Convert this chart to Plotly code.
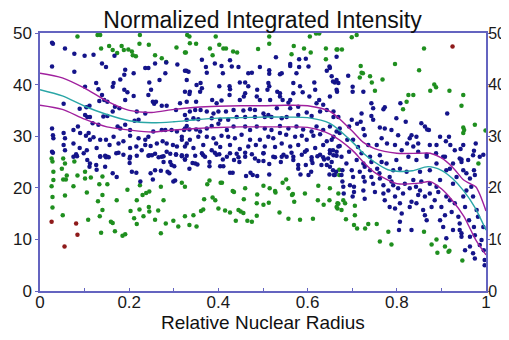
import plotly.graph_objects as go

# ---- scatter data ----
blue_pts = [
    (.027,48.1),(.029,47.9),(.056,47.0),(.077,46.0),(.100,45.6),(.120,45.8),(.167,45.6),(.027,43.5),(.077,42.5),(.139,44.1),
    (.148,43.4),(.191,42.9),(.189,41.9),(.210,42.2),(.236,43.2),(.243,43.2),(.258,44.1),(.283,44.3),(.308,43.9),(.328,42.7),
    (.329,40.9),(.281,42.2),(.245,40.4),(.268,40.9),(.165,40.3),(.163,39.6),(.180,41.0),(.189,39.0),(.196,38.5),(.126,40.3),
    (.101,39.6),(.131,39.1),(.139,38.0),(.144,37.0),(.151,36.7),(.133,36.8),(.104,35.6),(.111,35.9),(.053,36.3),(.089,35.3),
    (.101,34.1),(.106,33.7),(.112,33.7),(.118,32.5),(.131,32.2),(.142,33.8),(.151,33.9),(.163,34.8),(.168,35.7),(.178,35.4),
    (.191,37.0),(.210,37.8),(.243,38.0),(.249,39.0),(.253,36.7),(.256,36.3),(.260,36.7),(.273,35.9),(.284,35.9),(.305,35.1),
    (.314,36.4),(.325,38.6),(.329,36.7),(.217,34.8),(.236,34.4),(.212,33.0),(.221,33.2),(.191,32.2),(.202,31.2),(.174,31.9),
    (.180,31.5),(.202,30.1),(.221,29.6),(.236,29.3),(.243,29.9),(.254,30.9),(.273,31.2),(.281,31.2),(.295,31.2),(.307,30.9),
    (.323,31.2),(.329,32.0),(.027,31.5),(.029,30.2),(.030,29.6),(.053,30.6),(.056,29.6),(.075,31.2),(.085,31.9),(.090,30.6),
    (.103,30.1),(.109,30.6),(.112,29.3),(.120,29.8),(.135,29.3),(.148,29.3),(.156,28.3),(.165,29.9),(.176,28.6),(.187,29.0),
    (.202,27.7),(.216,28.0),(.228,27.3),(.236,28.3),(.248,28.1),(.262,28.6),(.275,29.0),(.284,28.6),(.298,28.3),(.307,28.0),
    (.318,29.3),(.329,28.6),(.075,28.6),(.053,28.3),(.056,27.3),(.089,27.7),(.098,26.7),(.105,27.3),(.127,27.7),(.135,26.0),
    (.146,26.2),(.151,26.0),(.171,26.7),(.187,26.4),(.202,26.0),(.217,26.2),(.243,26.2),(.258,26.6),(.273,26.0),(.292,26.6),
    (.305,26.4),(.027,27.0),
    (.029,26.8),(.075,26.0),(.081,26.5),(.083,26.1),(.106,25.4),(.112,24.7),(.111,24.1),(.126,24.4),(.135,26.1),(.148,25.9),
    (.154,25.9),(.127,23.5),(.146,24.1),(.176,26.8),(.172,22.1),(.163,22.8),(.201,25.7),(.201,24.8),(.206,23.1),(.216,22.9),
    (.225,21.2),(.245,26.3),(.251,26.3),(.266,25.9),(.277,26.1),(.277,25.0),(.284,27.0),(.292,25.0),(.295,24.4),(.301,24.2),
    (.305,26.5),(.318,26.1),(.325,25.5),(.248,22.8),(.253,21.6),(.258,23.4),(.271,23.3),(.286,23.1),(.290,22.8),(.299,21.2),
    (.303,21.4),
    (.318,26.3),(.325,25.5),(.342,24.8),(.348,24.7),(.353,24.5),(.335,23.7),(.366,26.3),(.363,26.7),(.380,25.0),(.380,24.2),
    (.392,26.8),(.402,26.5),(.410,25.5),(.404,24.2),(.411,24.2),(.426,26.7),(.435,25.4),(.445,25.9),(.447,25.0),(.426,22.9),
    (.432,22.9),(.460,26.8),(.475,26.5),(.490,25.2),(.501,26.7),(.501,25.2),(.514,24.6),(.527,25.9),(.540,25.0),(.542,26.0),
    (.553,26.0),(.564,26.8),(.568,25.4),(.579,24.4),(.579,23.7),(.584,22.6),(.596,24.4),(.594,27.0),(.602,22.5),(.609,25.4),
    (.611,24.8),(.608,23.1),(.622,26.1),(.631,24.4),(.635,25.9),(.637,25.5),(.643,24.4),(.650,24.1),(.649,22.6),(.658,26.3),
    (.659,22.5),(.664,23.1),(.462,22.3),(.472,22.9),(.477,22.5),(.487,22.3),(.514,22.6),
    (.363,44.8),(.372,43.4),(.374,42.3),(.333,42.5),(.325,42.7),(.392,44.1),(.407,43.6),(.426,44.7),(.430,43.5),(.445,43.4),
    (.410,42.2),(.475,42.3),(.467,42.2),(.493,43.4),(.514,42.8),(.514,42.1),(.529,45.3),(.538,42.0),(.542,42.2),(.561,43.6),
    (.561,44.0),(.581,43.4),(.575,42.2),(.596,45.0),(.602,43.5),(.581,44.9),(.615,40.4),(.643,42.7),(.649,43.5),(.665,45.4),
    (.669,40.3),(.661,40.4),(.360,40.3),(.351,39.9),(.363,39.3),(.359,38.6),(.336,38.6),(.335,38.2),(.350,36.7),(.402,39.7),
    (.425,39.7),(.426,39.1),(.448,40.4),(.460,40.4),(.467,39.7),(.460,38.3),(.457,37.7),(.448,37.0),(.425,38.0),(.407,36.9),
    (.386,37.0),(.396,36.4),(.360,35.1),(.348,35.1),(.336,34.8),(.512,40.3),(.514,39.7),(.510,39.0),(.487,39.0),(.486,37.7),
    (.493,37.0),(.516,37.0),(.532,38.6),(.538,37.7),(.544,37.0),(.538,38.3),(.568,40.3),(.568,38.3),(.561,37.0),(.557,36.5),
    (.589,38.5),(.604,37.7),(.617,39.0),(.626,37.0),(.620,36.4),(.635,36.1),(.650,37.7),(.665,39.0),(.583,39.7),(.579,35.7),
    (.561,35.4),(.531,35.4),(.512,34.1),(.501,34.4),(.482,35.1),(.471,35.2),(.456,35.0),(.434,35.1),(.417,34.8),(.400,34.8),
    (.389,34.4),(.374,34.8),(.325,34.1),(.329,33.2),(.344,33.5),(.355,33.3),(.385,33.5),(.404,33.2),(.422,33.2),(.441,33.7),
    (.460,33.7),(.482,33.7),(.504,33.7),(.519,33.7),(.542,33.5),(.553,33.7),(.579,34.1),(.598,34.6),(.609,33.9),(.628,34.8),
    (.643,35.1),(.658,34.8),(.658,33.7),(.669,33.7),(.325,31.5),(.335,31.3),(.350,31.3),(.359,30.9),(.374,31.5),(.385,32.0),
    (.400,32.4),(.419,31.2),(.434,31.9),(.460,31.9),(.471,31.2),(.486,31.9),(.504,31.5),(.519,31.2),(.538,32.0),(.557,31.5),
    (.575,31.9),(.590,31.3),(.609,30.9),(.620,31.9),(.635,31.2),(.650,31.9),(.665,30.9),(.318,29.9),(.336,29.3),(.355,29.9),
    (.374,29.9),(.389,29.6),(.395,28.6),(.407,30.1),(.422,29.9),(.437,29.6),(.452,30.3),(.471,29.3),(.493,29.3),(.512,29.9),
    (.523,29.6),(.538,30.6),(.552,30.3),(.572,29.9),(.587,30.1),(.598,29.3),(.613,30.1),(.628,30.4),(.643,29.0),(.658,29.9),
    (.325,28.0),(.344,27.7),(.366,28.3),(.385,27.3),(.404,27.9),(.426,28.3),(.448,27.5),(.467,28.0),(.484,28.3),(.504,28.0),
    (.527,27.9),(.542,28.6),(.561,28.0),(.579,28.3),(.598,27.3),(.617,27.7),(.635,28.3),(.650,27.3),(.669,28.0),(.329,26.2),
    (.348,26.2),(.370,26.0),(.396,26.4),(.419,26.0),(.441,26.6),(.460,26.0),(.482,25.7),(.501,26.7),(.523,26.0),(.546,26.4),
    (.568,26.0),(.587,26.4),(.609,25.9),(.628,26.4),(.646,25.7),(.665,26.2),
    (.650,43.2),(.654,41.6),(.657,40.6),(.665,40.9),(.666,38.6),(.691,41.7),(.701,39.6),(.701,38.6),(.725,38.6),(.743,36.4),
    (.747,35.4),(.770,35.2),(.773,35.6),(.799,33.5),(.808,36.4),(.820,32.8),(.829,29.6),(.833,30.2),(.844,29.9),(.848,28.6),
    (.855,32.5),(.863,31.9),(.868,31.3),(.872,31.2),(.874,28.3),(.889,28.3),(.897,29.9),(.910,29.0),(.913,34.4),(.917,29.9),
    (.920,28.3),(.930,27.3),(.943,27.5),(.949,28.3),(.973,27.2),(.994,26.4),(.721,34.4),(.719,32.8),(.725,31.4),(.711,32.4),
    (.743,33.9),(.747,33.2),(.728,30.2),(.699,33.2),(.693,31.9),(.672,31.5),(.672,30.6),(.689,29.3),(.672,28.1),(.654,29.3),
    (.657,27.3),(.702,29.3),(.713,27.9),(.736,28.3),(.755,28.3),(.762,31.7),(.773,31.5),(.766,29.6),(.778,28.6),(.788,31.2),
    (.796,28.3),(.803,30.2),(.811,27.3),(.823,28.6),(.837,28.0),(.848,27.0),(.867,26.4),(.888,26.7),(.908,26.0),(.945,25.5),
    (.977,28.6),(.986,26.0),
    (.650,26.7),(.654,25.0),(.657,23.4),(.661,22.5),(.676,26.0),(.678,23.4),(.676,22.5),(.678,21.2),(.680,20.2),(.681,18.9),
    (.693,27.0),(.699,23.4),(.702,22.1),(.704,20.2),(.704,19.2),(.701,18.3),(.721,26.7),(.725,24.7),(.728,24.1),(.725,22.1),
    (.728,21.2),(.725,19.5),(.728,17.9),(.740,23.4),(.743,22.1),(.747,20.8),(.751,19.2),(.756,23.7),(.761,22.8),(.762,21.8),
    (.770,20.5),(.770,18.9),(.773,17.6),(.781,19.5),(.784,22.1),(.788,21.2),(.792,20.5),(.784,16.3),(.796,18.3),(.796,16.0),
    (.803,19.9),(.807,17.0),(.807,13.4),(.811,15.0),(.805,11.8),(.814,18.9),(.818,20.8),(.829,19.9),(.833,17.3),(.829,16.3),
    (.833,11.8),(.837,21.5),(.843,20.2),(.848,18.6),(.844,17.0),(.852,19.5),(.855,21.2),(.859,15.7),(.863,18.3),(.863,14.7),
    (.867,13.7),(.874,20.8),(.874,18.9),(.878,16.3),(.885,17.6),(.889,20.2),(.893,19.2),(.897,21.5),(.897,13.7),(.900,16.3),
    (.908,14.7),(.904,12.4),(.911,18.3),(.911,10.2),(.919,17.6),(.923,15.3),(.926,20.8),(.926,11.8),(.930,17.0),(.938,14.4),
    (.941,13.1),(.941,11.8),(.945,11.2),(.949,18.3),(.945,10.5),(.953,16.3),(.953,7.9),(.956,19.5),(.960,25.4),(.962,13.7),
    (.964,10.5),(.964,8.6),(.967,20.2),(.971,26.3),(.973,23.4),(.975,22.5),(.971,18.3),(.973,12.4),(.975,10.8),(.971,7.3),
    (.975,6.3),(.979,15.7),(.982,14.4),(.986,8.9),(.990,9.9),(.994,12.4),(.995,7.9),(.997,6.0),(.997,5.0),(.665,27.0),
    (.687,24.7),(.710,25.4),(.740,26.0),(.762,26.3),(.777,24.7),(.799,25.4),(.807,23.7),(.826,26.0),(.844,25.4),(.867,26.0),
    (.889,24.7),(.904,26.0),(.911,23.4),(.926,24.7),(.941,25.7),(.945,25.0),(.949,23.4),(.956,22.8),(.964,21.8),(.934,22.1),
    (.919,23.7),(.874,23.4),(.852,23.1),(.822,23.1),(.792,23.4),(.766,25.0),(.743,25.0),(.717,23.1),(.695,20.5),
]

green_pts = [
    (.026,25.7),(.028,25.1),(.052,25.7),(.056,24.7),(.049,23.7),(.030,23.1),(.060,22.4),(.052,21.6),(.058,21.6),(.030,21.5),
    (.026,20.3),(.075,20.3),(.056,18.5),(.028,18.2),(.028,16.2),(.051,14.7),(.084,22.4),(.077,25.1),(.101,23.1),(.101,21.8),
    (.114,22.0),(.105,19.1),(.133,20.7),(.151,20.7),(.140,22.2),(.140,18.6),(.130,17.4),(.140,15.7),(.134,14.5),(.108,13.8),
    (.159,13.4),(.163,13.2),(.137,11.3),(.168,11.6),(.185,10.7),(.191,11.0),(.172,17.6),(.196,19.6),(.203,15.5),(.211,14.1),
    (.217,13.0),(.217,17.6),(.223,15.8),(.232,14.5),(.230,18.6),(.238,19.0),(.245,19.3),(.224,20.5),(.244,16.3),(.245,15.4),
    (.265,15.6),(.258,13.8),(.277,17.6),(.271,20.2),(.282,13.1),(.299,13.6),(.310,12.5),(.318,21.0),(.325,20.2),(.325,14.5),
    (.335,12.8),(.271,11.2),
    (.344,14.7),(.351,12.5),(.361,15.5),(.366,15.8),(.368,17.8),(.375,20.7),(.380,21.4),(.387,18.1),(.393,17.6),(.400,16.0),
    (.405,21.0),(.408,21.0),(.415,15.6),(.426,15.2),(.432,19.4),(.435,19.2),(.439,13.6),(.445,15.7),(.450,15.4),(.456,15.1),
    (.457,17.8),(.460,19.9),(.465,13.6),(.475,13.4),(.486,14.6),(.487,18.7),(.486,17.0),(.501,20.4),(.501,16.7),(.513,17.1),
    (.515,19.9),(.527,19.4),(.528,19.1),(.537,15.2),(.544,21.0),(.552,21.6),(.557,19.9),(.557,14.0),(.565,18.6),(.567,18.8),
    (.570,17.3),(.583,13.8),(.594,18.9),(.612,14.0),(.623,17.6),(.624,20.4),(.636,16.7),(.649,17.6),(.650,19.9),(.667,17.0),
    (.667,16.0),(.671,23.5),(.671,22.5),
    (.669,18.9),(.669,16.9),(.665,16.3),(.676,15.7),(.680,17.6),(.686,13.9),(.684,17.0),(.706,16.5),(.704,12.8),(.711,12.1),
    (.729,12.1),(.736,13.0),(.755,13.0),(.706,14.7),(.762,9.6),(.781,11.5),(.788,9.0),(.861,11.5),(.878,9.0),(.889,10.0),
    (.891,7.4),(.908,8.6),(.916,7.6),(.918,7.8),(.947,5.9),(.983,24.7),
    (.084,49.3),(.129,49.6),(.135,49.6),(.137,47.0),(.155,47.5),(.163,46.7),(.173,46.1),(.183,47.5),(.188,46.7),(.198,46.8),
    (.206,46.4),(.208,45.7),(.215,45.5),(.223,47.9),(.224,49.6),(.244,47.7),(.258,45.7),(.273,45.1),(.283,44.4),(.306,47.2),
    (.325,46.2),(.330,49.6),
    (.335,49.3),(.336,48.0),(.350,47.9),(.327,46.2),(.381,47.0),(.387,45.7),(.394,49.3),(.402,47.7),(.411,47.0),(.417,47.0),
    (.433,46.4),(.442,46.2),(.489,46.9),(.514,49.3),(.514,47.9),(.564,45.9),(.569,47.5),(.592,47.0),(.605,49.3),(.607,46.2),
    (.619,49.9),(.626,49.9),(.641,47.0),(.641,44.9),(.665,46.8),
    (.699,49.2),(.710,49.6),(.667,46.8),(.677,46.8),(.719,43.6),(.721,42.3),(.724,42.2),(.717,41.4),(.740,41.6),(.744,40.4),
    (.751,38.8),(.768,41.0),(.796,44.0),(.814,35.2),(.822,36.7),(.826,38.0),(.837,38.0),(.850,42.8),(.861,47.0),(.875,38.8),
    (.884,40.0),(.888,39.5),(.918,38.8),(.945,35.9),(.949,38.0),(.949,31.7),(.951,31.2),(.949,30.6),(.975,32.2),(.999,31.1),
]

red_pts = [(.026,13.4),(.081,13.1),(.084,10.9),(.055,8.6),(.925,47.4)]

# ---- fitted curve and confidence band ----
fit_x   = [0, .05, .1, .15, .2, .25, .3, .35, .4, .45, .5, .55, .6, .65, .7, .725, .75, .78, .8, .835, .87, .9, .925, .95, .975, 1.0]
fit_mid = [39.0, 37.8, 35.8, 34.2, 33.0, 32.6, 32.8, 33.2, 33.5, 33.6, 33.7, 33.7, 33.6, 32.5, 28.9, 26.7, 25.0, 23.5, 23.2, 23.3, 24.1, 23.4, 21.8, 19.4, 16.2, 11.8]
band_x  = [0, .05, .1, .15, .2, .25, .3, .35, .4, .45, .5, .55, .6, .65, .7, .725, .75, .8, .85, .875, .9, .925, .95, .962, .977, 1.0]
band_hi = [42.2, 41.3, 39.3, 36.8, 35.0, 34.6, 35.2, 35.6, 35.8, 35.9, 35.9, 36.0, 35.9, 34.8, 31.0, 28.8, 27.6, 26.7, 26.7, 26.7, 25.8, 24.0, 21.5, 20.9, 20.2, 15.5]
band_lo = [36.0, 35.2, 33.3, 31.8, 31.2, 30.8, 31.2, 31.5, 31.7, 31.8, 31.8, 31.8, 31.7, 30.4, 27.3, 25.0, 23.0, 20.8, 20.9, 21.2, 19.8, 17.5, 14.5, 12.5, 9.9, 7.0]

x_tick_vals = [0, 0.2, 0.4, 0.6, 0.8, 1]
x_tick_text = ["0", "0.2", "0.4", "0.6", "0.8", "1"]
y_tick_vals = [0, 10, 20, 30, 40, 50]

BLUE = "#14148a"
GREEN = "#1f8f1f"
RED = "#8e1a1a"
AXIS = "#6464c0"

fig = go.Figure()

def add_pts(pts, color):
    fig.add_trace(go.Scatter(x=[p[0] for p in pts], y=[p[1] for p in pts], mode="markers",
                             marker=dict(color=color, size=4.5, line=dict(width=0)),
                             hoverinfo="skip", showlegend=False, cliponaxis=False))

add_pts(green_pts, GREEN)
add_pts(blue_pts, BLUE)
add_pts(red_pts, RED)

for xs, ys, col in [(band_x, band_hi, "#a0209e"), (band_x, band_lo, "#a0209e"), (fit_x, fit_mid, "#2aa6a6")]:
    fig.add_trace(go.Scatter(x=xs, y=ys, mode="lines", line=dict(color=col, width=1.4, shape="spline", smoothing=0.8),
                             hoverinfo="skip", showlegend=False))

# invisible trace to show the right axis
fig.add_trace(go.Scatter(x=[0], y=[0], yaxis="y2", mode="markers", marker=dict(opacity=0),
                         hoverinfo="skip", showlegend=False))

# The page body has an 8 px margin, so the figure is sized/margined to compensate
# (and kept short enough that the page never needs to scroll).
W, H = 501, 324
font_family = "Arial, Liberation Sans, sans-serif"
fig.update_layout(
    width=W, height=H,
    margin=dict(l=32, r=23, t=25, b=41),
    paper_bgcolor="white", plot_bgcolor="white",
    font=dict(family=font_family, color="#1a1a1a", size=17),
    title=dict(text="Normalized Integrated Intensity", x=0.508, xanchor="center",
               y=1 - 12.0 / H, yanchor="middle", yref="container",
               font=dict(size=23, family=font_family, color="#111")),
    xaxis=dict(range=[0, 1], tickvals=x_tick_vals, ticktext=x_tick_text, showgrid=False, zeroline=False,
               showline=True, linecolor=AXIS, linewidth=1.5, mirror=True, automargin=False,
               ticks="inside", ticklen=3, tickcolor=AXIS, tickfont=dict(size=17),
               ticklabelstandoff=-5,
               minor=dict(dtick=0.1, ticks="inside", ticklen=3, tickcolor=AXIS)),
    yaxis=dict(range=[0, 50], tickvals=y_tick_vals, showgrid=False, zeroline=False, automargin=False,
               showline=True, linecolor=AXIS, linewidth=1.5, mirror=True,
               ticks="outside", ticklen=3, tickcolor=AXIS, tickfont=dict(size=17)),
    yaxis2=dict(range=[0, 50], tickvals=y_tick_vals, overlaying="y", side="right", showgrid=False,
                zeroline=False, showline=False, ticks="outside", ticklen=3, tickcolor=AXIS,
                ticklabelstandoff=-5, automargin=False, tickfont=dict(size=16)),
    annotations=[dict(text="Relative Nuclear Radius", xref="paper", yref="paper", x=0.501, y=-0.123,
                      xanchor="center", yanchor="middle", showarrow=False,
                      font=dict(size=19, family=font_family, color="#111"))],
)

fig.write_html("out.html")
